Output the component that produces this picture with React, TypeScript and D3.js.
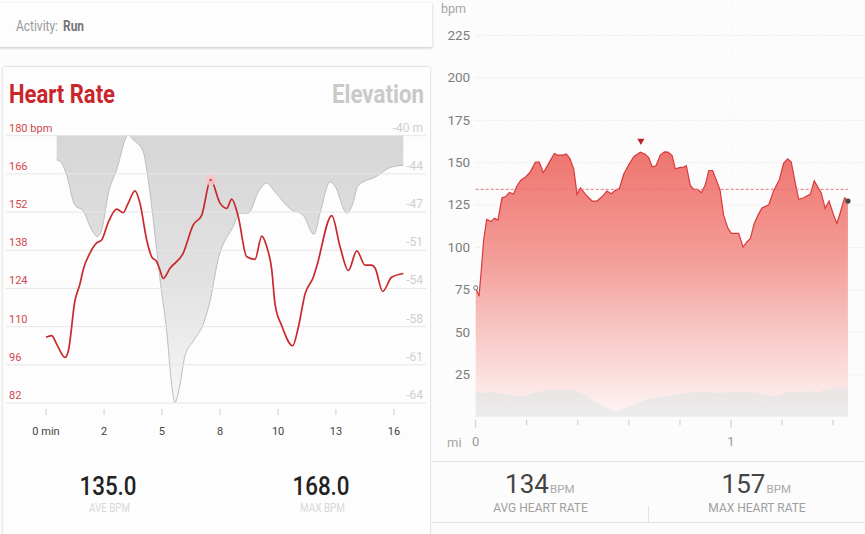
import React, { useEffect, useRef } from 'react';
import * as d3 from 'd3';

// left card: heart rate over time (minutes, bpm) and elevation (minutes, metres)
const hrMinutes = [0, 0.26, 0.49, 0.87, 1.03, 1.33, 1.56, 1.71, 2.02, 2.33, 2.56, 2.85, 3.25, 3.55, 3.78, 4.09, 4.32, 4.63, 4.86, 5.09, 5.24, 5.39, 5.7, 6.31, 6.77, 7.16, 7.57, 8.0, 8.31, 8.54, 8.84, 9.23, 9.61, 9.92, 10.15, 10.38, 10.53, 10.84, 11.34, 11.6, 11.91, 12.29, 12.45, 13.14, 13.52, 13.9, 14.29, 14.67, 14.97, 15.13, 15.48, 15.89, 16.43];
const hrBpm = [105.9, 106.5, 103.4, 98.5, 101, 119.3, 125.4, 130.7, 136.8, 140.5, 141.6, 147.8, 152.9, 151.6, 155.1, 159.6, 155.1, 141.6, 135.4, 133.6, 130.6, 127.5, 131.2, 136.8, 147.1, 150.7, 163.6, 155.1, 153.2, 156.6, 150.1, 135.4, 134.5, 143, 139.1, 130.6, 118.1, 110.1, 102.8, 109.5, 121.8, 127.9, 132, 150.5, 139.1, 130.4, 137.6, 132.4, 132.4, 131.3, 122.7, 127.9, 129.3];
const elevMinutes = [0.49, 0.72, 0.95, 1.33, 1.71, 2.1, 2.36, 2.56, 2.87, 3.25, 3.78, 4.01, 4.47, 4.7, 5.09, 5.27, 5.55, 5.78, 5.93, 6.16, 6.39, 6.77, 7.26, 7.54, 7.91, 8.61, 8.92, 9.3, 9.76, 10.15, 10.53, 11.22, 11.83, 12.32, 12.6, 13.06, 13.29, 13.83, 14.06, 14.36, 15.2, 15.82, 16.43];
const elevMetres = [-42.2, -42.5, -43.6, -46.3, -46.8, -48.5, -49.1, -48.5, -45.2, -43.1, -40, -40.4, -41.5, -44, -50.3, -53.4, -57.6, -62.4, -64, -62.4, -59.8, -58.5, -56.8, -54.9, -51.2, -48.2, -47, -47, -45.1, -44.3, -45.1, -46.6, -47.2, -48.9, -47, -44.2, -44.6, -47, -46.4, -44.5, -43.7, -42.9, -42.7];
const bpmTicks = [180, 166, 152, 138, 124, 110, 96, 82];
const elevTicks = [-40, -44, -47, -51, -54, -58, -61, -64];
const minuteTicks = [0, 2.67, 5.33, 8, 10.67, 13.33, 16];

// right panel: heart rate over distance (miles, bpm) and the grey elevation shape
const runMiles = [0, 0.013, 0.022, 0.031, 0.043, 0.06, 0.073, 0.087, 0.103, 0.116, 0.132, 0.148, 0.162, 0.176, 0.197, 0.214, 0.234, 0.249, 0.265, 0.286, 0.308, 0.321, 0.341, 0.355, 0.369, 0.384, 0.397, 0.41, 0.43, 0.456, 0.475, 0.495, 0.514, 0.531, 0.547, 0.563, 0.58, 0.599, 0.619, 0.645, 0.664, 0.678, 0.691, 0.706, 0.723, 0.739, 0.753, 0.769, 0.782, 0.802, 0.815, 0.825, 0.841, 0.854, 0.871, 0.884, 0.899, 0.913, 0.928, 0.945, 0.957, 0.971, 0.988, 1.001, 1.03, 1.047, 1.063, 1.076, 1.091, 1.106, 1.121, 1.148, 1.167, 1.189, 1.206, 1.222, 1.236, 1.252, 1.265, 1.285, 1.311, 1.326, 1.353, 1.369, 1.384, 1.402, 1.415, 1.429, 1.445, 1.458];
const runBpm = [76, 71, 86.5, 104, 116.3, 115, 116.9, 115.9, 129, 129.6, 132.2, 131.2, 136.1, 139.2, 141.4, 144.3, 150, 150, 143.8, 149.3, 155.1, 154.2, 154.2, 154.9, 152.2, 145.9, 131, 134.9, 131, 127.1, 127.1, 129.6, 133, 131.4, 133.4, 134.5, 143, 148.3, 153.2, 155.9, 154.7, 152.6, 147.3, 147.9, 154.2, 156.1, 155.9, 154, 146.1, 146.9, 147.1, 147.9, 136.1, 134.1, 133.9, 132, 136.5, 145.1, 145.1, 138.5, 133.6, 118.8, 111, 108, 108, 100, 103.1, 105.1, 113.9, 118.8, 123, 124.9, 133.2, 139.4, 149.3, 152, 150, 137.5, 128.1, 129, 131.2, 139, 132, 122.8, 127.1, 118.8, 113.9, 120.8, 129, 127.1];
const groundMiles = [0, 0.012, 0.031, 0.057, 0.103, 0.181, 0.221, 0.26, 0.332, 0.377, 0.416, 0.456, 0.508, 0.547, 0.599, 0.664, 0.743, 0.821, 0.886, 0.952, 1.004, 1.069, 1.167, 1.232, 1.278, 1.304, 1.337, 1.356, 1.415, 1.458];
const groundLevel = [15.3, 14.5, 13.8, 14.9, 13.8, 12.2, 13.8, 15.3, 16.3, 15.9, 13.9, 9.8, 5.5, 3.5, 5.9, 9.8, 11.8, 13.9, 14.5, 13.9, 14.5, 14.5, 12.4, 14.5, 14.5, 15.3, 13.9, 15.3, 16.7, 16.7];
const runBpmTicks = [225, 200, 175, 150, 125, 100, 75, 50, 25];
const mileTicks = [0, 0.2, 0.4, 0.6, 0.8, 1, 1.2, 1.4];
const avgRunBpm = 134;

const sans = 'Roboto, sans-serif';

const App: React.FC = () => {
  const ref = useRef<SVGSVGElement>(null);

  useEffect(() => {
    const svg = d3.select(ref.current);
    svg.selectAll('*').remove();

    const defs = svg.append('defs');
    const grad = (id: string, stops: [number, string][], y1: number, y2: number) => {
      const g = defs.append('linearGradient').attr('id', id)
        .attr('gradientUnits', 'userSpaceOnUse')
        .attr('x1', 0).attr('x2', 0).attr('y1', y1).attr('y2', y2);
      stops.forEach(([o, c]) => g.append('stop').attr('offset', o).attr('stop-color', c));
    };
    grad('elevFill', [[0, '#d6d6d6'], [0.55, '#e2e2e2'], [1, '#f6f6f6']], 135, 403);
    grad('runFill', [[0, '#ef746e'], [0.4, '#f39c97'], [0.7, '#f8cac7'], [1, '#fdf6f6']], 150, 417);
    grad('groundFill', [[0, '#ebe5e5'], [1, '#ececec']], 390, 417);

    const text = (x: number, y: number, s: string, size: number, fill: string, anchor = 'start', weight = 400) =>
      svg.append('text').attr('x', x).attr('y', y).text(s)
        .attr('font-size', size).attr('fill', fill).attr('text-anchor', anchor)
        .attr('font-family', sans).attr('font-weight', weight);
    // the original uses a condensed face, so squeeze Roboto to the measured width
    const squeezed = (x: number, y: number, s: string, size: number, fill: string, width: number, anchor = 'start', weight = 400) =>
      text(x, y, s, size, fill, anchor, weight).attr('textLength', width).attr('lengthAdjust', 'spacingAndGlyphs');

    // page
    svg.append('rect').attr('width', 865).attr('height', 534).attr('fill', '#fcfcfc');

    // cards on the left
    svg.append('rect').attr('x', -6).attr('y', 3).attr('width', 438).attr('height', 44).attr('fill', '#fdfdfd')
      .style('filter', 'drop-shadow(0 1px 1.5px rgba(0,0,0,0.22))');
    svg.append('rect').attr('x', 3).attr('y', 67).attr('width', 427).attr('height', 480).attr('rx', 2).attr('fill', '#fdfdfd')
      .style('filter', 'drop-shadow(0 0 1.2px rgba(0,0,0,0.25))');

    squeezed(16, 30.5, 'Activity:', 14, '#9a9a9a', 42);
    squeezed(63, 30.5, 'Run', 14, '#757575', 21, 'start', 700);
    squeezed(9, 103.3, 'Heart Rate', 26, '#c9252b', 106, 'start', 700);
    squeezed(424, 103.3, 'Elevation', 26, '#c9c9c9', 92, 'end', 700);

    // left chart
    const x = d3.scaleLinear().domain([0, 16]).range([46, 394]);
    const y = d3.scaleLinear().domain([82, 180]).range([402.5, 135.2]);
    const yElev = d3.scaleLinear().domain([-64, -40]).range([402.5, 135.2]);

    const elevPts = elevMinutes.map((m, i): [number, number] => [m, elevMetres[i]]);
    const hrPts = hrMinutes.map((m, i): [number, number] => [m, hrBpm[i]]);

    svg.append('path').datum(elevPts)
      .attr('d', d3.area<[number, number]>().x(d => x(d[0])).y0(135.2).y1(d => yElev(d[1])).curve(d3.curveMonotoneX))
      .attr('fill', 'url(#elevFill)');
    svg.append('path').datum(elevPts)
      .attr('d', d3.line<[number, number]>().x(d => x(d[0])).y(d => yElev(d[1])).curve(d3.curveMonotoneX))
      .attr('fill', 'none').attr('stroke', '#bdbdbd').attr('stroke-width', 1);

    const gridL = svg.append('g').attr('transform', 'translate(6,0)')
      .call(d3.axisRight(y).tickValues(bpmTicks).tickSize(420).tickFormat((d, i) => (i === 0 ? `${d} bpm` : `${d}`)));
    gridL.select('.domain').remove();
    gridL.selectAll('line').attr('stroke', '#e6e6e6');
    gridL.selectAll('text').attr('x', 3).attr('dy', -4).attr('font-size', 11).attr('font-family', sans)
      .attr('fill', '#d0484c').attr('text-anchor', 'start');

    const elevAxis = svg.append('g').attr('transform', 'translate(423,0)')
      .call(d3.axisRight(yElev).tickValues(d3.range(8).map(i => -40 - (i * 24) / 7)).tickSize(0)
        .tickFormat((_, i) => (i === 0 ? `${elevTicks[i]} m` : `${elevTicks[i]}`)));
    elevAxis.select('.domain').remove();
    elevAxis.selectAll('text').attr('x', 0).attr('dy', -4).attr('font-size', 12).attr('font-family', sans)
      .attr('fill', '#cfcfcf').attr('text-anchor', 'end');

    const peak = hrPts[d3.maxIndex(hrPts, d => d[1])];
    svg.append('path').datum(hrPts)
      .attr('d', d3.line<[number, number]>().x(d => x(d[0])).y(d => y(d[1])).curve(d3.curveMonotoneX))
      .attr('fill', 'none').attr('stroke', '#c9282d').attr('stroke-width', 1.7);
    svg.append('circle').attr('cx', x(peak[0])).attr('cy', y(peak[1])).attr('r', 5.5).attr('fill', '#f8c6c8').attr('opacity', 0.85);
    svg.append('circle').attr('cx', x(peak[0])).attr('cy', y(peak[1])).attr('r', 1).attr('fill', '#b01c22');

    const xAxisL = svg.append('g').attr('transform', 'translate(-0.5,409)')
      .call(d3.axisBottom(x).tickValues(minuteTicks).tickSize(6).tickPadding(12)
        .tickFormat((d, i) => (i === 0 ? '0 min' : `${Math.floor(+d)}`)));
    xAxisL.select('.domain').remove();
    xAxisL.selectAll('line').attr('stroke', '#cfcfcf');
    xAxisL.selectAll('text').attr('font-size', 11).attr('font-family', sans).attr('fill', '#444');

    squeezed(108, 495, '135.0', 25, '#222', 57, 'middle', 500);
    squeezed(321, 495, '168.0', 25, '#222', 57, 'middle', 500);
    squeezed(109.5, 512, 'AVE BPM', 12.5, '#d8d8d8', 41, 'middle');
    squeezed(322.5, 512, 'MAX BPM', 12.5, '#d8d8d8', 45, 'middle');

    // right chart
    const xR = d3.scaleLinear().domain([0, 1]).range([475.7, 731]);
    const yR = d3.scaleLinear().domain([0, 225]).range([416.7, 34.9]);
    const runPts = runMiles.map((m, i): [number, number] => [m, runBpm[i]]);
    const groundPts = groundMiles.map((m, i): [number, number] => [m, groundLevel[i]]);

    const gridR = svg.append('g').attr('transform', 'translate(475.7,0)')
      .call(d3.axisRight(yR).tickValues(runBpmTicks).tickSize(390));
    gridR.select('.domain').remove();
    gridR.selectAll('line').attr('stroke', '#e8e8e8').attr('stroke-dasharray', '1.5 1.5');
    gridR.selectAll('text').attr('x', -5.5).attr('dy', '0.32em').attr('font-size', 13.5).attr('font-family', sans)
      .attr('fill', '#7d7d7d').attr('text-anchor', 'end');
    svg.append('line').attr('x1', xR(1)).attr('x2', xR(1)).attr('y1', 0).attr('y2', yR(0))
      .attr('stroke', '#f3f3f3').attr('stroke-dasharray', '1.5 1.5');

    svg.append('path').datum(runPts.slice(0))
      .attr('d', d3.area<[number, number]>().x(d => xR(d[0])).y0(yR(0)).y1(d => yR(d[1])))
      .attr('fill', 'url(#runFill)');
    svg.append('path').datum(groundPts)
      .attr('d', d3.area<[number, number]>().x(d => xR(d[0])).y0(yR(0)).y1(d => yR(d[1])).curve(d3.curveMonotoneX))
      .attr('fill', 'url(#groundFill)');
    svg.append('path').datum(runPts)
      .attr('d', d3.line<[number, number]>().x(d => xR(d[0])).y(d => yR(d[1])))
      .attr('fill', 'none').attr('stroke', '#d8393c').attr('stroke-width', 1.2);

    svg.append('line').attr('x1', xR(0)).attr('x2', xR(runMiles[runMiles.length - 1])).attr('y1', yR(avgRunBpm)).attr('y2', yR(avgRunBpm))
      .attr('stroke', '#e5757a').attr('stroke-dasharray', '3 2').attr('stroke-width', 1);

    const runPeak = runPts[d3.maxIndex(runPts, d => d[1])];
    svg.append('path')
      .attr('d', d3.symbol(d3.symbolTriangle, 22)())
      .attr('transform', `translate(${xR(0.647)},${yR(runPeak[1]) - 11}) rotate(180)`)
      .attr('fill', '#b3242a');
    svg.append('circle').attr('cx', xR(runPts[0][0])).attr('cy', yR(runPts[0][1])).attr('r', 2)
      .attr('fill', '#fff').attr('stroke', '#6f6f6f').attr('stroke-width', 1);
    const last = runPts[runPts.length - 1];
    svg.append('circle').attr('cx', xR(last[0])).attr('cy', yR(last[1])).attr('r', 2.6).attr('fill', '#454545');

    const xAxisR = svg.append('g').attr('transform', `translate(-0.5,${yR(0) + 3})`)
      .call(d3.axisBottom(xR).tickValues(mileTicks).tickSize(6).tickPadding(11)
        .tickFormat(d => (+d === 0 || +d === 1 ? `${d}` : '')));
    xAxisR.select('.domain').remove();
    xAxisR.selectAll('line').attr('stroke', '#c8c8c8')
      .attr('y2', d => (+(d as number) === 0 || +(d as number) === 1 ? 8 : 5.5));
    xAxisR.selectAll('text').attr('font-size', 13).attr('font-family', sans).attr('fill', '#9a9a9a');
    text(447, 447, 'mi', 13, '#a5a5a5');

    svg.append('line').attr('x1', 432).attr('x2', 865).attr('y1', 461.5).attr('y2', 461.5).attr('stroke', '#e4e4e4');
    svg.append('line').attr('x1', 432).attr('x2', 865).attr('y1', 522.5).attr('y2', 522.5).attr('stroke', '#e4e4e4');
    svg.append('line').attr('x1', 648.5).attr('x2', 648.5).attr('y1', 506).attr('y2', 522).attr('stroke', '#e4e4e4');

    text(441, 13, 'bpm', 12.5, '#a5a5a5');
    text(527, 493, '134', 26, '#444', 'middle');
    text(550, 493, 'BPM', 11.5, '#aaaaaa');
    text(540.5, 511.5, 'AVG HEART RATE', 12, '#a0a0a0', 'middle');
    text(743.5, 493, '157', 26, '#444', 'middle');
    text(766.5, 493, 'BPM', 11.5, '#aaaaaa');
    text(757, 511.5, 'MAX HEART RATE', 12, '#a0a0a0', 'middle');
  }, []);

  return (
    <svg
      ref={ref}
      width={865}
      height={534}
      style={{ position: 'absolute', left: 0, top: 0, display: 'block' }}
    />
  );
};

export default App;
